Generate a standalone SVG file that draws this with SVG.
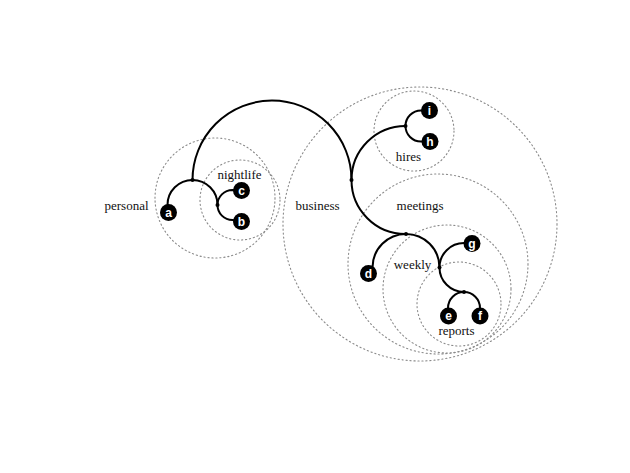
<svg xmlns="http://www.w3.org/2000/svg" width="630" height="473" viewBox="0 0 630 473">
<style>
.ring{fill:none;stroke:#8a8a8a;stroke-width:1.1;stroke-dasharray:1.2 2.8;stroke-linecap:round}
.edge{fill:none;stroke:#000;stroke-width:2}
.jn{fill:#000}
.leaf circle{fill:#000}
.leaf text{fill:#fff;font-family:"Liberation Sans",Arial,sans-serif;font-weight:bold;font-size:12px;text-anchor:middle}
.lbl{font-family:"Liberation Serif","Times New Roman",serif;font-size:13px;fill:#111;text-anchor:middle}
</style>
<rect width="630" height="473" fill="#fff"/>
<g id="rings">
<circle class="ring" cx="215" cy="198" r="60"/>
<circle class="ring" cx="240" cy="200" r="40"/>
<circle class="ring" cx="420" cy="224" r="137"/>
<circle class="ring" cx="414" cy="131" r="40"/>
<circle class="ring" cx="438" cy="264" r="90"/>
<circle class="ring" cx="447" cy="289" r="64"/>
<circle class="ring" cx="459" cy="304" r="42"/>
</g>
<g id="connectors">
<path class="edge" d="M192.5,180 A79.5,79.5 0 0 1 351.5,180"/>
<path class="edge" d="M168.5,212 L167.5,205 A25,25 0 0 1 217.5,205"/>
<path class="edge" d="M241.5,190.5 L232.5,190 A15,15 0 0 0 232.5,220 L241.5,221"/>
<path class="edge" d="M405.5,126 A54,54 0 0 0 405.5,234"/>
<path class="edge" d="M429.5,110.5 L421,110.5 A15.5,15.5 0 0 0 421,141.5 L430,141.5"/>
<path class="edge" d="M368.5,273 L372.5,267.5 A33.5,33.5 0 0 1 439.5,267.5"/>
<path class="edge" d="M472,243 L464,243 A24.5,24.5 0 0 0 464,292"/>
<path class="edge" d="M448.5,316 L448,308 A16,16 0 0 1 480,308 L480,316"/>
</g>
<g id="junctions">
<circle class="jn" cx="192.5" cy="180" r="2"/>
<circle class="jn" cx="217.5" cy="205" r="2"/>
<circle class="jn" cx="351.5" cy="180" r="2"/>
<circle class="jn" cx="405.5" cy="126" r="2"/>
<circle class="jn" cx="406" cy="234" r="2"/>
<circle class="jn" cx="439.5" cy="267.5" r="2"/>
<circle class="jn" cx="464" cy="292" r="2"/>
</g>
<g id="labels">
<text class="lbl" x="126.5" y="210">personal</text>
<text class="lbl" x="239.5" y="179">nightlife</text>
<text class="lbl" x="317.5" y="210">business</text>
<text class="lbl" x="420" y="210">meetings</text>
<text class="lbl" x="408.5" y="161">hires</text>
<text class="lbl" x="412.5" y="269">weekly</text>
<text class="lbl" x="456.5" y="334.5">reports</text>
</g>
<g id="node-a" class="leaf"><circle cx="168.5" cy="212.5" r="8.5"/><text x="168.5" y="216.7">a</text></g>
<g id="node-b" class="leaf"><circle cx="241.5" cy="221.5" r="8.5"/><text x="241.5" y="225.7">b</text></g>
<g id="node-c" class="leaf"><circle cx="241.5" cy="190.5" r="8.5"/><text x="241.5" y="194.7">c</text></g>
<g id="node-d" class="leaf"><circle cx="368.5" cy="273.5" r="8.5"/><text x="368.5" y="277.7">d</text></g>
<g id="node-e" class="leaf"><circle cx="448.5" cy="316" r="8.5"/><text x="448.5" y="320.2">e</text></g>
<g id="node-f" class="leaf"><circle cx="480" cy="316" r="8.5"/><text x="480" y="320.2">f</text></g>
<g id="node-g" class="leaf"><circle cx="472" cy="243.5" r="8.5"/><text x="472" y="247.7">g</text></g>
<g id="node-h" class="leaf"><circle cx="430" cy="141.5" r="8.5"/><text x="430" y="145.7">h</text></g>
<g id="node-i" class="leaf"><circle cx="429.5" cy="110.5" r="8.5"/><text x="429.5" y="114.7">i</text></g>
</svg>
